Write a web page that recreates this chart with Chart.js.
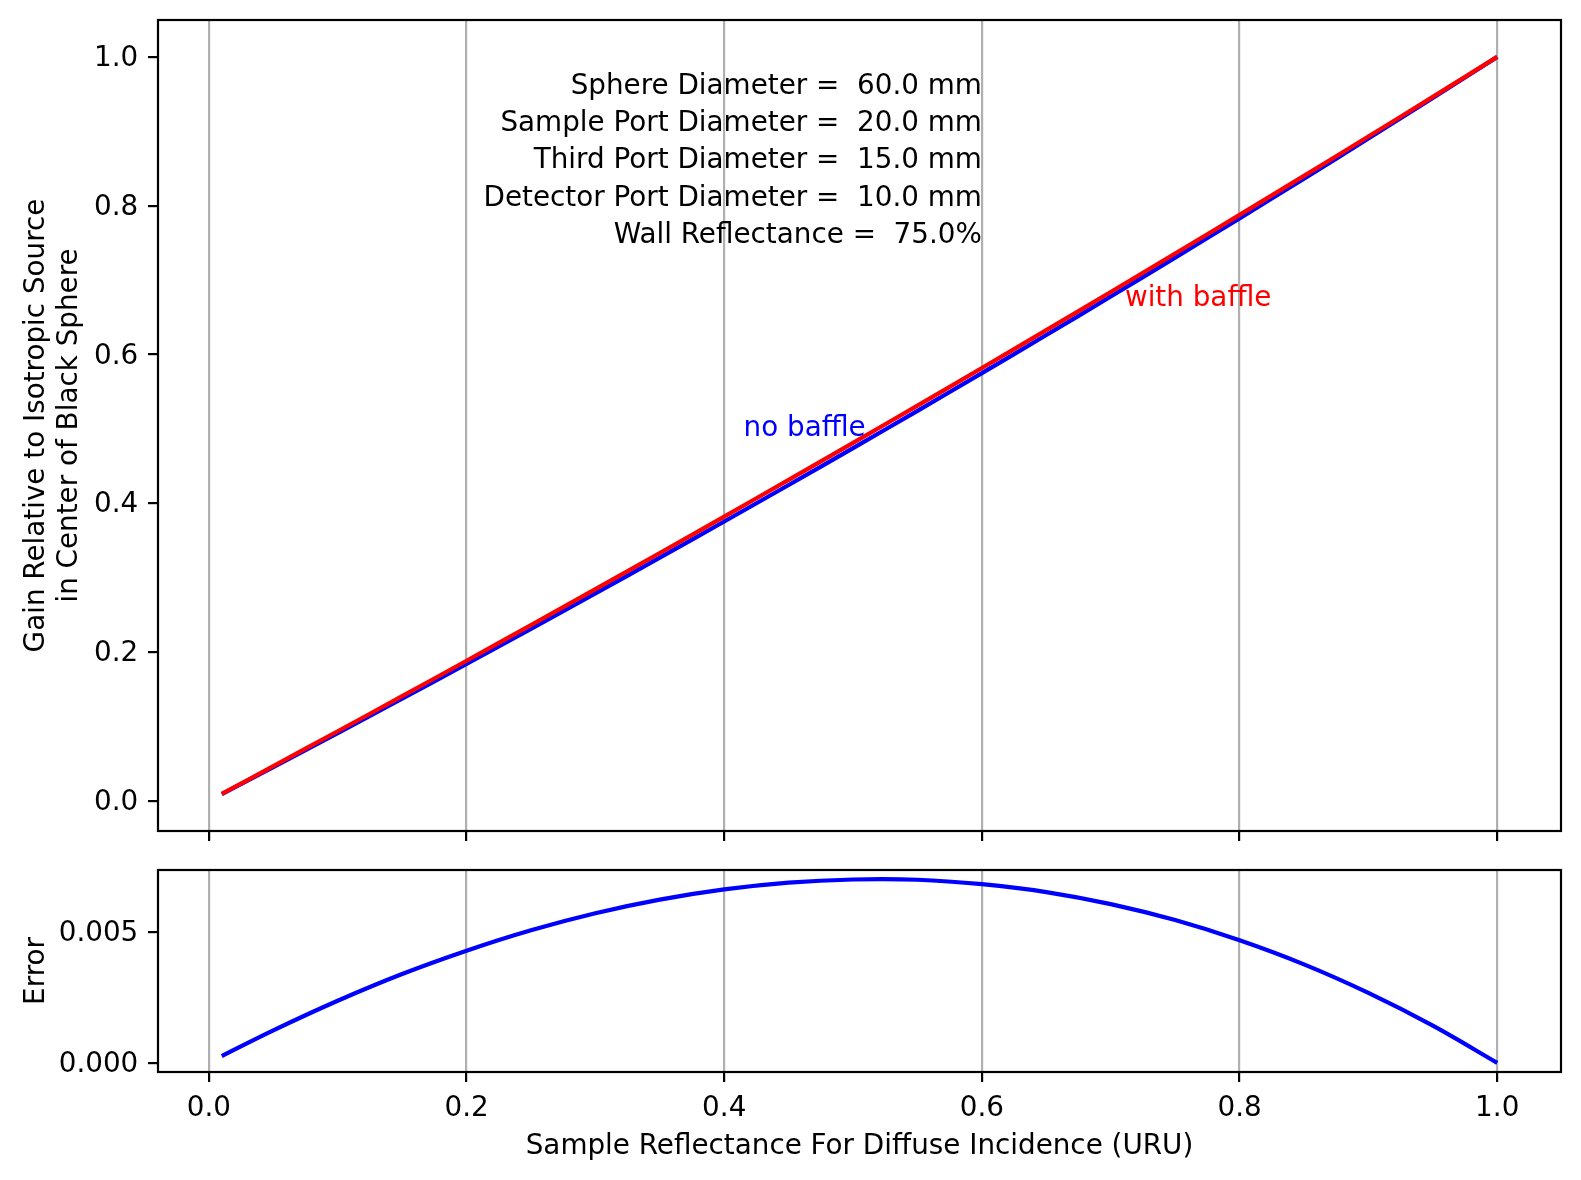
<!DOCTYPE html>
<html>
<head>
<meta charset="utf-8">
<script src="https://cdn.jsdelivr.net/npm/chart.js@4/dist/chart.umd.min.js"></script>
<style>
  html, body { margin: 0; padding: 0; background: #fff; }
  #wrap { position: relative; width: 1581px; height: 1180px; }
  canvas { position: absolute; left: 0; top: 0; }
</style>
</head>
<body>
<div id="wrap">
  <canvas id="gainCanvas" width="1581" height="1180"></canvas>
  <canvas id="errorCanvas" width="1581" height="1180"></canvas>
</div>
<script>
// Values
const reflectance = [0.01, 0.05, 0.10, 0.15, 0.20, 0.25, 0.30, 0.35, 0.40, 0.45, 0.50,
                     0.55, 0.60, 0.65, 0.70, 0.75, 0.80, 0.85, 0.90, 0.95, 1.00];
const gainWithBaffle = [0.0091, 0.0465, 0.0934, 0.1406, 0.1882, 0.2361, 0.2844, 0.3330, 0.3820, 0.4314, 0.4811,
                        0.5312, 0.5817, 0.6326, 0.6839, 0.7356, 0.7876, 0.8401, 0.8930, 0.9463, 1.0000];
const gainNoBaffle = [0.0088, 0.0453, 0.0910, 0.1372, 0.1839, 0.2310, 0.2787, 0.3268, 0.3754, 0.4245, 0.4741,
                      0.5242, 0.5749, 0.6261, 0.6778, 0.7302, 0.7829, 0.8363, 0.8903, 0.9449, 1.0000];
const gainError = [0.00026, 0.00124, 0.00237, 0.00339, 0.00428, 0.00506, 0.00571, 0.00623, 0.00662, 0.00688, 0.00700,
                   0.00699, 0.00682, 0.00652, 0.00606, 0.00545, 0.00468, 0.00376, 0.00267, 0.00142, 0.00000];

const xTicks = [0.0, 0.2, 0.4, 0.6, 0.8, 1.0];
const gainTicks = [0.0, 0.2, 0.4, 0.6, 0.8, 1.0];
const errorTicks = [0.000, 0.005];

const paramLines = [
    'Sphere Diameter =  60.0 mm',
    'Sample Port Diameter =  20.0 mm',
    'Third Port Diameter =  15.0 mm',
    'Detector Port Diameter =  10.0 mm',
    'Wall Reflectance =  75.0%'
];

// look
const FONT = 'DejaVu Sans';
const FS = 27.8;
const SPINE = 2.2;
const GRID = '#b0b0b0';
Chart.defaults.color = '#000';
Chart.defaults.font.family = FONT;
Chart.defaults.font.size = FS;

function pts(ys) {
    return reflectance.map((x, i) => ({ x: x, y: ys[i] }));
}

function setTicks(values) {
    return (scale) => { scale.ticks = values.map(v => ({ value: v })); };
}

// black box around the plot area (matplotlib spines)
const framePlugin = {
    id: 'frame',
    afterDraw(chart) {
        const a = chart.chartArea, ctx = chart.ctx;
        ctx.save();
        ctx.strokeStyle = '#000';
        ctx.lineWidth = SPINE;
        ctx.strokeRect(a.left, a.top, a.right - a.left, a.bottom - a.top);
        ctx.restore();
    }
};

// texts placed in data units
const gainTextPlugin = {
    id: 'gainText',
    afterDatasetsDraw(chart) {
        const ctx = chart.ctx, xs = chart.scales.x, ys = chart.scales.y;
        ctx.save();
        ctx.font = FS + 'px "' + FONT + '"';
        ctx.textBaseline = 'alphabetic';

        ctx.fillStyle = '#000';
        ctx.textAlign = 'right';
        const px = xs.getPixelForValue(0.6);
        const py = ys.getPixelForValue(0.9505);
        paramLines.forEach((t, i) => ctx.fillText(t, px, py + i * 37.3));

        ctx.textAlign = 'left';
        ctx.fillStyle = '#0000ff';
        ctx.fillText('no baffle', xs.getPixelForValue(0.415), ys.getPixelForValue(0.4906));
        ctx.fillStyle = '#ff0000';
        ctx.fillText('with baffle', xs.getPixelForValue(0.711), ys.getPixelForValue(0.6655));
        ctx.restore();
    }
};

function xScale(showLabels, axisHeight, title) {
    return {
        type: 'linear',
        min: -0.0395,
        max: 1.0495,
        afterBuildTicks: setTicks(xTicks),
        afterFit: (s) => { s.height = axisHeight; s.paddingLeft = 0; s.paddingRight = 0; },
        border: { display: false },
        grid: { color: GRID, lineWidth: SPINE, tickColor: '#000', tickWidth: SPINE, tickLength: 10 },
        ticks: { display: showLabels, padding: 10, maxRotation: 0, callback: v => v.toFixed(1) },
        title: title ? { display: true, text: title, font: { size: FS, lineHeight: 1.19 }, padding: { top: 0, bottom: 17 } }
                     : { display: false }
    };
}

function yScale(min, max, ticks, digits, title) {
    return {
        type: 'linear',
        min: min,
        max: max,
        afterBuildTicks: setTicks(ticks),
        afterFit: (s) => { s.width = 158; s.paddingTop = 0; s.paddingBottom = 0; },
        border: { display: false },
        grid: { drawOnChartArea: false, tickColor: '#000', tickWidth: SPINE, lineWidth: SPINE, tickLength: 10 },
        ticks: { padding: 9.7, labelOffset: 2, callback: v => v.toFixed(digits) },
        title: { display: true, text: title, font: { size: FS, lineHeight: 1.19 }, padding: { top: 20.5, bottom: 0 } }
    };
}

const lineStyle = { borderWidth: 4.2, pointRadius: 0, fill: false, tension: 0.35 };

new Chart(document.getElementById('gainCanvas'), {
    type: 'line',
    data: {
        datasets: [
            Object.assign({ label: 'with baffle', data: pts(gainWithBaffle), borderColor: '#ff0000' }, lineStyle),
            Object.assign({ label: 'no baffle', data: pts(gainNoBaffle), borderColor: '#0000ff' }, lineStyle)
        ]
    },
    options: {
        responsive: false,
        animation: false,
        layout: { padding: { top: 20, right: 20, left: 0, bottom: 0 } },
        plugins: { legend: { display: false }, tooltip: { enabled: false } },
        scales: {
            x: xScale(false, 349, null),
            y: yScale(-0.0407, 1.0496, gainTicks, 1, ['Gain Relative to Isotropic Source', 'in Center of Black Sphere'])
        }
    },
    plugins: [gainTextPlugin, framePlugin]
});

new Chart(document.getElementById('errorCanvas'), {
    type: 'line',
    data: {
        datasets: [
            Object.assign({ label: 'Error', data: pts(gainError), borderColor: '#0000ff' }, lineStyle)
        ]
    },
    options: {
        responsive: false,
        animation: false,
        layout: { padding: { top: 870, right: 20, left: 0, bottom: 0 } },
        plugins: { legend: { display: false }, tooltip: { enabled: false } },
        scales: {
            x: xScale(true, 108, 'Sample Reflectance For Diffuse Incidence (URU)'),
            y: yScale(-0.00035, 0.007362, errorTicks, 3, 'Error')
        }
    },
    plugins: [framePlugin]
});
</script>
</body>
</html>
